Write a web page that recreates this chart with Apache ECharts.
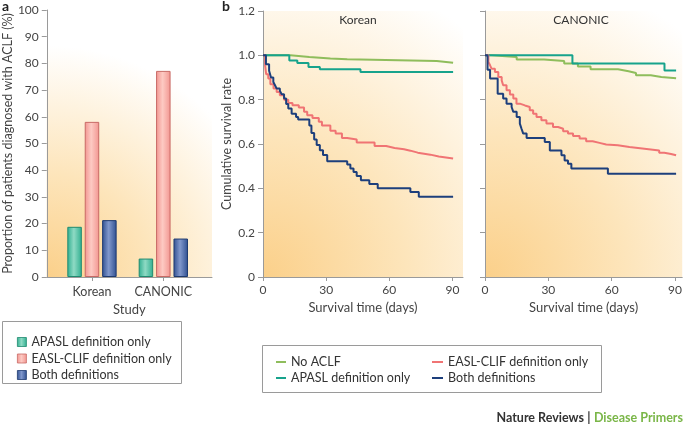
<!DOCTYPE html>
<html>
<head>
<meta charset="utf-8">
<script src="https://cdn.jsdelivr.net/npm/echarts@6/dist/echarts.min.js"></script>
<style>html,body{margin:0;padding:0;background:#fff}#c{width:685px;height:425px}</style>
</head>
<body>
<div id="c"></div>
<script>
// ---- Panel a data ----
const categories = ['Korean', 'CANONIC'];
const barApasl = [18.8, 6.9];
const barEasl = [58.1, 77.2];
const barBoth = [21.3, 14.4];
const barYTicks = [0, 10, 20, 30, 40, 50, 60, 70, 80, 90, 100];

// ---- Panel b data: [day, cumulative survival] ----
const survXTicks = [0, 30, 60, 90];
const korNoAclf = [[0,1],[13,0.992],[22,0.986],[32,0.982],[40,0.974],[82.5,0.967],[90.3,0.967]];
const korApasl = [[0,1],[12.5,0.977],[16.3,0.965],[21.6,0.947],[27,0.937],[46.3,0.925],[90.3,0.925]];
const korEasl = [[0,1],[1,0.955],[1.5,0.915],[2.5,0.895],[3.5,0.87],[5,0.85],[6.5,0.835],[8,0.82],[10,0.8],[12,0.785],[14,0.775],[17,0.765],[19.5,0.745],[21,0.73],[23.5,0.717],[26.5,0.7],[28,0.684],[32,0.66],[34.5,0.647],[37.5,0.627],[40,0.62],[44.5,0.607],[53,0.591],[58.5,0.582],[62.5,0.576],[67,0.57],[70,0.561],[73.5,0.552],[79.5,0.544],[83.5,0.535],[90.3,0.535]];
const korBoth = [[0,1],[1.4,0.96],[2.9,0.93],[3.8,0.9],[4.9,0.88],[5.7,0.865],[6.5,0.85],[8,0.84],[8.9,0.824],[10,0.805],[11,0.78],[12,0.76],[13.6,0.737],[15.7,0.722],[16.7,0.711],[22,0.684],[23,0.65],[24.3,0.62],[25.5,0.595],[27,0.572],[28.5,0.55],[30.5,0.522],[40,0.507],[41.5,0.49],[43,0.474],[44.5,0.456],[46.5,0.436],[50.5,0.419],[54.5,0.4],[70,0.384],[74,0.362],[90.3,0.362]];
const canNoAclf = [[0,1],[3,0.992],[15,0.981],[28,0.974],[37.5,0.963],[44,0.95],[50,0.937],[63,0.928],[68,0.92],[71.5,0.91],[78.5,0.902],[83.5,0.897],[90.5,0.897]];
const canApasl = [[0,1],[41.4,0.963],[85,0.932],[90.5,0.932]];
const canEasl = [[0,1],[1.6,0.97],[2.4,0.955],[3.1,0.94],[4.7,0.925],[6.3,0.902],[7.9,0.887],[8.6,0.865],[10.2,0.842],[11.8,0.823],[13.4,0.805],[14.9,0.782],[16.5,0.774],[18.9,0.767],[21.2,0.752],[22.8,0.737],[24.4,0.722],[26.7,0.707],[29.1,0.692],[32.2,0.677],[34.6,0.669],[37,0.657],[39.3,0.647],[41.7,0.636],[44.8,0.625],[47.9,0.612],[51,0.605],[54.2,0.598],[57.4,0.594],[62.9,0.586],[68.4,0.579],[75.5,0.571],[82.5,0.561],[84.9,0.555],[88.1,0.549],[90.5,0.549]];
const canBoth = [[0,1],[1.2,0.935],[2.4,0.895],[6,0.827],[8.6,0.805],[10.2,0.782],[12.6,0.767],[13.4,0.745],[15,0.722],[16.5,0.692],[17.3,0.669],[18.1,0.647],[19.7,0.627],[28.3,0.609],[30.7,0.571],[36.2,0.549],[37.7,0.526],[39.3,0.511],[40.9,0.49],[58.2,0.466],[90.5,0.466]];

const FONT = 'Lato';
const AXC = '#9a9a9a';
const TXT = '#444';

const C_NO = '#8fbd5c', C_AP = '#17a38c', C_EA = '#f07474', C_BO = '#1d3f7c';

function hgrad(edge, mid) {
  return {type:'linear', x:0, y:0, x2:1, y2:0, colorStops:[
    {offset:0, color:edge},{offset:0.45, color:mid},{offset:1, color:edge}]};
}
function bg(r) {
  return {type:'radial', x:0, y:1, r:r, colorStops:[
    {offset:0, color:'#fbd08a'},{offset:0.45, color:'#fde5bb'},{offset:1, color:'#ffffff'}]};
}

const chart = echarts.init(document.getElementById('c'), null, {renderer:'canvas'});

function survAxisX(gi, max) {
  return {
    type:'value', gridIndex:gi, min:0, max:max,
    name:'Survival time (days)', nameLocation:'middle', nameGap:23,
    nameTextStyle:{fontFamily:FONT, fontSize:13, color:TXT},
    axisLine:{show:true, lineStyle:{color:AXC}},
    axisTick:{show:true, length:4, customValues:survXTicks, lineStyle:{color:AXC}},
    axisLabel:{customValues:survXTicks, fontFamily:FONT, fontSize:12, color:TXT, margin:7},
    splitLine:{show:false}
  };
}
function survAxisY(gi, labels) {
  return {
    type:'value', gridIndex:gi, min:0, max:1.2, interval:0.2,
    name: labels ? 'Cumulative survival rate' : '', nameLocation:'middle', nameGap:30,
    nameTextStyle:{fontFamily:FONT, fontSize:12.5, color:TXT},
    axisLine:{show:true, lineStyle:{color:AXC}},
    axisTick:{show:true, length:5, inside:false, lineStyle:{color:AXC}},
    axisLabel:{show:labels, fontFamily:FONT, fontSize:12, color:TXT, margin:8,
      formatter:v => v === 0 ? '0' : v.toFixed(1)},
    splitLine:{show:false}
  };
}
function km(name, data, xi, color) {
  return {type:'line', name:name, xAxisIndex:xi, yAxisIndex:xi, data:data,
    step:'end', symbol:'none', showSymbol:false, silent:true,
    itemStyle:{color:color}, lineStyle:{color:color, width:2}, z:3};
}
function bar(name, data, edge, mid, border) {
  return {type:'bar', name:name, xAxisIndex:1, yAxisIndex:1, data:data,
    barWidth:14.5, barGap:'20%', silent:true,
    itemStyle:{color:hgrad(edge, mid), borderColor:border, borderWidth:1}};
}

const legendText = {fontFamily:FONT, fontSize:12.5, color:'#333', lineHeight:16};

const option = {
  animation:false,
  textStyle:{fontFamily:FONT},
  grid:[
    {left:42, top:10, width:170, height:267, show:true, borderWidth:0, backgroundColor:bg(1.4)},
    {left:56.3, top:10, width:142.7, height:267},
    {left:263, top:11, width:200, height:266, show:true, borderWidth:0, backgroundColor:bg(1.6)},
    {left:485, top:11, width:198, height:266, show:true, borderWidth:0, backgroundColor:bg(1.6)}
  ],
  xAxis:[
    {type:'value', gridIndex:0, min:0, max:1, name:'Study', nameLocation:'middle', nameGap:26,
      nameTextStyle:{fontFamily:FONT, fontSize:13, color:TXT},
      axisLine:{show:true, lineStyle:{color:AXC}}, axisTick:{show:false}, axisLabel:{show:false}, splitLine:{show:false}},
    {type:'category', gridIndex:1, data:categories,
      axisLine:{show:false}, axisTick:{show:true, alignWithLabel:true, interval:0, length:4, lineStyle:{color:AXC}},
      axisLabel:{interval:0, fontFamily:FONT, fontSize:12.5, color:TXT, margin:8}},
    survAxisX(2, 95),
    survAxisX(3, 93.4)
  ],
  yAxis:[
    {type:'value', gridIndex:0, min:0, max:100, interval:10,
      name:'Proportion of patients diagnosed with ACLF (%)', nameLocation:'middle', nameGap:28,
      nameTextStyle:{fontFamily:FONT, fontSize:12.5, color:TXT},
      axisLine:{show:true, lineStyle:{color:AXC}},
      axisTick:{show:true, length:5, lineStyle:{color:AXC}},
      axisLabel:{customValues:barYTicks, fontFamily:FONT, fontSize:12, color:TXT, margin:8},
      splitLine:{show:false}},
    {type:'value', gridIndex:1, min:0, max:100, show:false, splitLine:{show:false}},
    survAxisY(2, true),
    survAxisY(3, false)
  ],
  legend:[
    {orient:'vertical', left:17, top:334, padding:0, itemWidth:9, itemHeight:9, itemGap:0.5,
      textStyle:legendText, selectedMode:false,
      data:[
        {name:'APASL definition only', icon:'rect', itemStyle:{color:hgrad('#2fae8f','#8fdac4'), borderColor:'#1f8a70', borderWidth:0.8}},
        {name:'EASL-CLIF definition only', icon:'rect', itemStyle:{color:hgrad('#f29590','#fdcac3'), borderColor:'#c86a66', borderWidth:0.8}},
        {name:'Both definitions', icon:'rect', itemStyle:{color:hgrad('#2f4f90','#8198cc'), borderColor:'#1e3a70', borderWidth:0.8}}
      ]},
    {orient:'vertical', left:276, top:354, padding:0, itemWidth:10, itemHeight:2, itemGap:0,
      textStyle:legendText, selectedMode:false,
      data:[
        {name:'No ACLF', icon:'rect', itemStyle:{color:C_NO, borderWidth:0}},
        {name:'APASL definition only', icon:'rect', itemStyle:{color:C_AP, borderWidth:0}}
      ]},
    {orient:'vertical', left:432, top:354, padding:0, itemWidth:11, itemHeight:2, itemGap:0,
      textStyle:legendText, selectedMode:false,
      data:[
        {name:'EASL-CLIF definition only', icon:'rect', itemStyle:{color:C_EA, borderWidth:0}},
        {name:'Both definitions', icon:'rect', itemStyle:{color:C_BO, borderWidth:0}}
      ]}
  ],
  graphic:[
    {type:'rect', shape:{x:2.5, y:321.5, width:179, height:62}, style:{fill:'none', stroke:'#9a9a9a', lineWidth:1}, silent:true},
    {type:'rect', shape:{x:262.5, y:345.5, width:339, height:47}, style:{fill:'none', stroke:'#9a9a9a', lineWidth:1}, silent:true},
    {type:'text', x:2, y:6, style:{text:'a', font:'bold 14px Lato', fill:'#222', verticalAlign:'middle'}},
    {type:'text', x:222, y:6, style:{text:'b', font:'bold 14px Lato', fill:'#222', verticalAlign:'middle'}},
    {type:'text', x:358, y:20, style:{text:'Korean', font:'12px Lato', fill:'#333', align:'center', verticalAlign:'middle'}},
    {type:'text', x:581, y:20, style:{text:'CANONIC', font:'12px Lato', fill:'#333', align:'center', verticalAlign:'middle'}},
    {type:'text', x:683, y:418, style:{text:'{a|Nature Reviews} {a||} {b|Disease Primers}', align:'right', verticalAlign:'middle',
      rich:{a:{font:'bold 12.5px Lato', fill:'#333', color:'#333'}, b:{font:'bold 12.5px Lato', color:'#7ab648', fill:'#7ab648'}}}}
  ],
  series:[
    bar('APASL definition only', barApasl, '#2fae8f', '#8fdac4', '#1f8a70'),
    bar('EASL-CLIF definition only', barEasl, '#f29590', '#fdcac3', '#c86a66'),
    bar('Both definitions', barBoth, '#2f4f90', '#8198cc', '#1e3a70'),
    km('No ACLF', korNoAclf, 2, C_NO),
    km('APASL definition only', korApasl, 2, C_AP),
    km('EASL-CLIF definition only', korEasl, 2, C_EA),
    km('Both definitions', korBoth, 2, C_BO),
    km('No ACLF', canNoAclf, 3, C_NO),
    km('APASL definition only', canApasl, 3, C_AP),
    km('EASL-CLIF definition only', canEasl, 3, C_EA),
    km('Both definitions', canBoth, 3, C_BO)
  ]
};
chart.setOption(option);
</script>
</body>
</html>
